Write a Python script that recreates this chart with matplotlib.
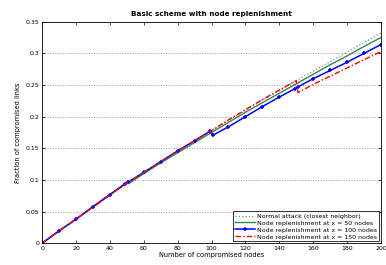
import matplotlib
matplotlib.use('Agg')
import matplotlib.pyplot as plt
from matplotlib.ticker import FuncFormatter

# Data
x_normal = [0, 10, 20, 30, 40, 50, 60, 70, 80, 90, 100, 110, 120, 130, 140, 150, 160, 170, 180, 190, 200]
y_normal = [0, 0.0195, 0.038, 0.057, 0.0765, 0.095, 0.112, 0.129, 0.146, 0.162, 0.178, 0.194,
            0.210, 0.226, 0.241, 0.257, 0.272, 0.287, 0.302, 0.317, 0.332]

x_r50 = [0, 10, 20, 30, 40, 50, 51, 60, 70, 80, 90, 100, 110, 120, 130, 140, 150, 160, 170, 180, 190, 200]
y_r50 = [0, 0.0195, 0.038, 0.057, 0.0765, 0.095, 0.094, 0.110, 0.127, 0.143, 0.159, 0.175, 0.191,
         0.207, 0.222, 0.237, 0.252, 0.267, 0.282, 0.296, 0.311, 0.325]

x_r100 = [0, 10, 20, 30, 40, 49, 51, 60, 70, 80, 90, 99, 101, 110, 120, 130, 140, 149, 151,
          160, 170, 180, 190, 200]
y_r100 = [0, 0.0195, 0.038, 0.058, 0.077, 0.094, 0.097, 0.112, 0.129, 0.146, 0.162, 0.177, 0.171,
          0.184, 0.200, 0.216, 0.231, 0.244, 0.247, 0.260, 0.273, 0.286, 0.300, 0.314]

x_r150 = [0, 10, 20, 30, 40, 50, 60, 70, 80, 90, 100, 110, 120, 130, 140, 150, 151, 160, 170, 180, 190, 200]
y_r150 = [0, 0.0195, 0.038, 0.057, 0.0765, 0.095, 0.112, 0.129, 0.146, 0.162, 0.178, 0.195,
          0.211, 0.227, 0.242, 0.257, 0.238, 0.251, 0.264, 0.277, 0.290, 0.303]

labels = ['Normal attack (closest neighbor)',
          'Node replenishment at x = 50 nodes',
          'Node replenishment at x = 100 nodes',
          'Node replenishment at x = 150 nodes']

plt.rcParams['font.family'] = ['DejaVu Sans']
fig = plt.figure(figsize=(3.86, 2.65), dpi=100)
ax = fig.add_axes([0.109, 0.082, 0.878, 0.836])

ax.plot(x_normal, y_normal, linestyle=':', color='#888888', linewidth=0.9, label=labels[0])
ax.plot(x_r50, y_r50, linestyle='-', color='#2f8a4f', linewidth=1.0, label=labels[1])
ax.plot(x_r100, y_r100, linestyle='-', color='#0000ff', linewidth=1.1, marker='+',
        markersize=3.5, markeredgewidth=1.1, label=labels[2])
ax.plot(x_r150, y_r150, linestyle=(0, (4, 1.5, 1, 1.5)), color='#ff0000', linewidth=1.0,
        label=labels[3])

ax.set_xlim(0, 200)
ax.set_ylim(0, 0.35)
ax.set_xticks(range(0, 201, 20))
ax.set_yticks([0, 0.05, 0.1, 0.15, 0.2, 0.25, 0.3, 0.35])
ax.yaxis.set_major_formatter(FuncFormatter(lambda v, p: '%g' % round(v, 2)))
ax.tick_params(direction='in', top=True, right=True, labelsize=4.5, length=2.5, width=0.5, pad=2)
# only horizontal grid lines in the original
ax.yaxis.grid(True, linestyle=':', color='#999999', linewidth=0.7)
for s in ax.spines.values():
    s.set_linewidth(0.6)

ax.set_title('Basic scheme with node replenishment', fontsize=5.2, fontweight='bold', pad=4)
ax.set_xlabel('Number of compromised nodes', fontsize=4.8, labelpad=1)
ax.set_ylabel('Fraction of compromised links', fontsize=4.8, labelpad=3)

leg = ax.legend(loc='lower right', fontsize=4.5, frameon=True, fancybox=False,
                edgecolor='black', handlelength=3.2, borderpad=0.3, labelspacing=0.25,
                handletextpad=0.4, borderaxespad=0.3)
leg.get_frame().set_linewidth(0.7)

fig.savefig('out.png', dpi=100)
